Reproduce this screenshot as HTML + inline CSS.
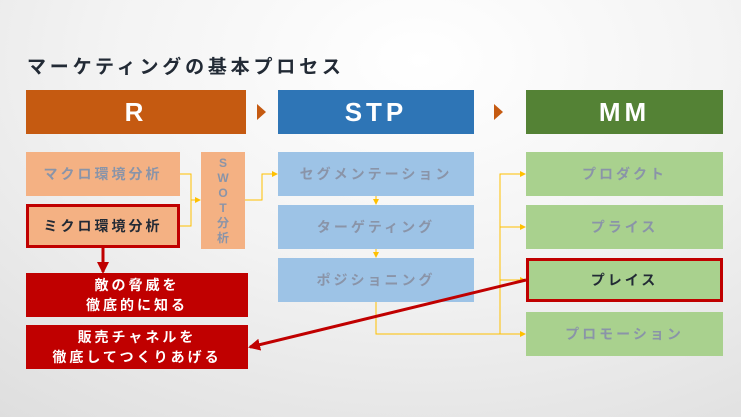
<!DOCTYPE html>
<html><head><meta charset="utf-8"><style>
body{margin:0;width:741px;height:417px;overflow:hidden;position:relative;
background:radial-gradient(ellipse 900px 600px at 420px 60px,#ffffff 0%,#f3f3f3 35%,#dcdcdc 80%,#cfcfcf 100%);
font-family:"Liberation Sans","Noto Sans CJK JP",sans-serif;}
.b{position:absolute;display:flex;align-items:center;justify-content:center;box-sizing:border-box;font-weight:bold;text-align:center}
.h{color:#fff;font-size:26px;letter-spacing:4px}
.s{font-size:14px;letter-spacing:3px;color:#8a94a8}
.r{background:#f4b183}.t{background:#9dc3e6}.g{background:#a9d18e}
.red{background:#c00000;color:#fff;font-size:14px;letter-spacing:3px;line-height:20px}
</style></head><body>
<div style="position:absolute;left:27px;top:52px;font-size:19px;font-weight:bold;letter-spacing:3.8px;color:#222a35">マーケティングの基本プロセス</div>
<div class="b h" style="left:26px;top:90px;width:220px;height:44px;background:#c55a11">R</div>
<div class="b h" style="left:278px;top:90px;width:196px;height:44px;background:#2e75b6">STP</div>
<div class="b h" style="left:526px;top:90px;width:197px;height:44px;background:#548235">MM</div>
<div class="b s r" style="left:26px;top:152px;width:154px;height:44px">マクロ環境分析</div>
<div class="b s r" style="left:26px;top:204px;width:154px;height:44px;border:3px solid #c00000;color:#222a35">ミクロ環境分析</div>
<div class="b s r" style="left:201px;top:152px;width:44px;height:97px;flex-direction:column;line-height:15px;letter-spacing:0;font-size:12px">S<br>W<br>O<br>T<br>分<br>析</div>
<div class="b s t" style="left:278px;top:152px;width:196px;height:44px">セグメンテーション</div>
<div class="b s t" style="left:278px;top:205px;width:196px;height:44px">ターゲティング</div>
<div class="b s t" style="left:278px;top:258px;width:196px;height:44px">ポジショニング</div>
<div class="b s g" style="left:526px;top:152px;width:197px;height:44px">プロダクト</div>
<div class="b s g" style="left:526px;top:205px;width:197px;height:44px">プライス</div>
<div class="b s g" style="left:526px;top:258px;width:197px;height:44px;border:3px solid #c00000;color:#222a35">プレイス</div>
<div class="b s g" style="left:526px;top:312px;width:197px;height:44px">プロモーション</div>
<div class="b red" style="left:26px;top:273px;width:222px;height:44px">敵の脅威を<br>徹底的に知る</div>
<div class="b red" style="left:26px;top:325px;width:222px;height:44px">販売チャネルを<br>徹底してつくりあげる</div>
<svg width="741" height="417" style="position:absolute;left:0;top:0">
<defs>
<marker id="y" markerWidth="6" markerHeight="6" refX="5" refY="3" orient="auto" markerUnits="userSpaceOnUse"><path d="M0,0L6,3L0,6z" fill="#ffc000"/></marker>
<marker id="rr" markerWidth="12" markerHeight="12" refX="10" refY="6" orient="auto" markerUnits="userSpaceOnUse"><path d="M0,0L12,6L0,12z" fill="#c00000"/></marker>
</defs>
<polygon points="257,104 266,112 257,120" fill="#c55a11"/>
<polygon points="494,104 503,112 494,120" fill="#c55a11"/>
<g fill="none" stroke="#ffc000" stroke-width="1">
<path d="M180,174H191V226H180"/>
<path d="M191,200H200" marker-end="url(#y)"/>
<path d="M245,200H262V174H277" marker-end="url(#y)"/>
<path d="M376,196V204" marker-end="url(#y)"/>
<path d="M376,249V257" marker-end="url(#y)"/>
<path d="M376,302V334H525" marker-end="url(#y)"/>
<path d="M500,334V174H525" marker-end="url(#y)"/>
<path d="M500,227H525" marker-end="url(#y)"/>
<path d="M500,280H525" marker-end="url(#y)"/>
</g>
<path d="M103,248V272" stroke="#c00000" stroke-width="3" marker-end="url(#rr)"/>
<path d="M526,280L250,347" stroke="#c00000" stroke-width="3" marker-end="url(#rr)"/>
</svg>
</body></html>
